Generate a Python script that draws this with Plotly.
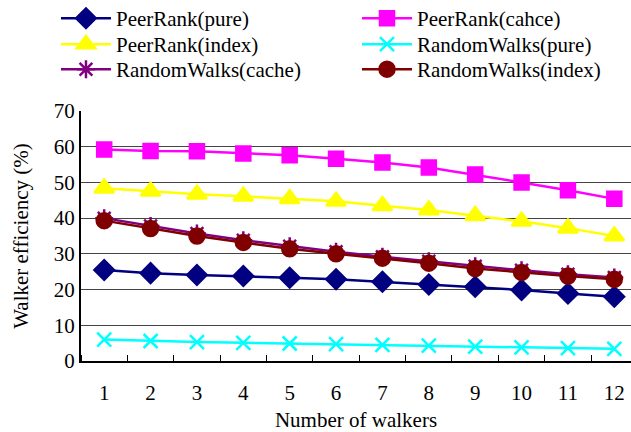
import plotly.graph_objects as go

walkers = list(range(1, 13))
peerrank_pure = [25.5, 24.6, 24.1, 23.8, 23.3, 22.9, 22.2, 21.4, 20.8, 19.9, 18.9, 18.0]
peerrank_cache = [59.2, 58.8, 58.7, 58.1, 57.6, 56.6, 55.6, 54.2, 52.2, 50.0, 47.8, 45.4]
peerrank_index = [48.4, 47.5, 46.7, 46.1, 45.4, 44.7, 43.5, 42.3, 40.7, 39.1, 37.2, 35.0]
random_pure = [6.0, 5.6, 5.3, 5.1, 4.9, 4.7, 4.5, 4.3, 4.0, 3.8, 3.6, 3.4]
random_cache = [40.0, 37.8, 35.7, 33.8, 32.1, 30.6, 29.2, 27.9, 26.5, 25.4, 24.3, 23.4]
random_index = [39.3, 37.1, 35.0, 33.2, 31.4, 30.0, 28.8, 27.4, 25.9, 24.8, 23.8, 22.9]
ytick_vals = [0, 10, 20, 30, 40, 50, 60, 70]

series = [
    ("PeerRank(pure)", peerrank_pure, "#000080", "diamond", 15),
    ("PeerRank(cahce)", peerrank_cache, "#FF00FF", "square", 14),
    ("PeerRank(index)", peerrank_index, "#FFFF00", "triangle-up", 17),
    ("RandomWalks(pure)", random_pure, "#00FFFF", "x-thin-open", 14),
    ("RandomWalks(cache)", random_cache, "#800080", "asterisk-open", 15),
    ("RandomWalks(index)", random_index, "#800000", "circle", 15),
]

font = "Liberation Serif, Times New Roman, serif"

# one legend box per entry: 2 columns x 3 rows
legend_x = [-0.0455, 0.5018]
legend_y = [1.452, 1.348, 1.248]

fig = go.Figure()
layout_legends = {}
for i, (name, vals, color, sym, size) in enumerate(series):
    key = "legend" if i == 0 else f"legend{i + 1}"
    fig.add_trace(go.Scatter(
        x=walkers, y=vals, name=name, mode="lines+markers",
        line=dict(color=color, width=2.5),
        marker=dict(symbol=sym, size=size, color=color,
                    line=dict(color=color, width=2.5)),
        legend=key,
    ))
    layout_legends[key] = dict(
        xref="paper", yref="paper",
        x=legend_x[i % 2], y=legend_y[i // 2],
        xanchor="left", yanchor="top",
        itemwidth=50, font=dict(family=font, size=21),
        bgcolor="rgba(0,0,0,0)", orientation="h",
    )

fig.update_layout(
    width=631, height=432,
    margin=dict(l=81, r=0, t=111, b=71, autoexpand=False),
    paper_bgcolor="white", plot_bgcolor="white",
    font=dict(family=font, size=21, color="black"),
    showlegend=True,
    xaxis=dict(
        range=[0.5, 12.36], tickmode="array", tickvals=walkers,
        ticks="", showgrid=False, zeroline=False,
        showline=True, linecolor="black", linewidth=2,
        ticklabelstandoff=12, automargin=False,
        minor=dict(tick0=0.5, dtick=1, ticks="inside", ticklen=6,
                   tickcolor="black", tickwidth=1, showgrid=False),
        title=dict(text="Number of walkers", standoff=10,
                   font=dict(family=font, size=21)),
    ),
    yaxis=dict(
        range=[0, 70], tickvals=ytick_vals,
        showgrid=True, gridcolor="#444444", gridwidth=1,
        zeroline=False, showline=True, linecolor="black", linewidth=2,
        ticks="", ticklabelstandoff=0, automargin=False,
        title=dict(text="Walker efficiency (%)", standoff=19,
                   font=dict(family=font, size=21)),
    ),
    **layout_legends,
)

fig.write_html("out.html", config={"displayModeBar": False},
               post_script="document.body.style.margin='0px';")
